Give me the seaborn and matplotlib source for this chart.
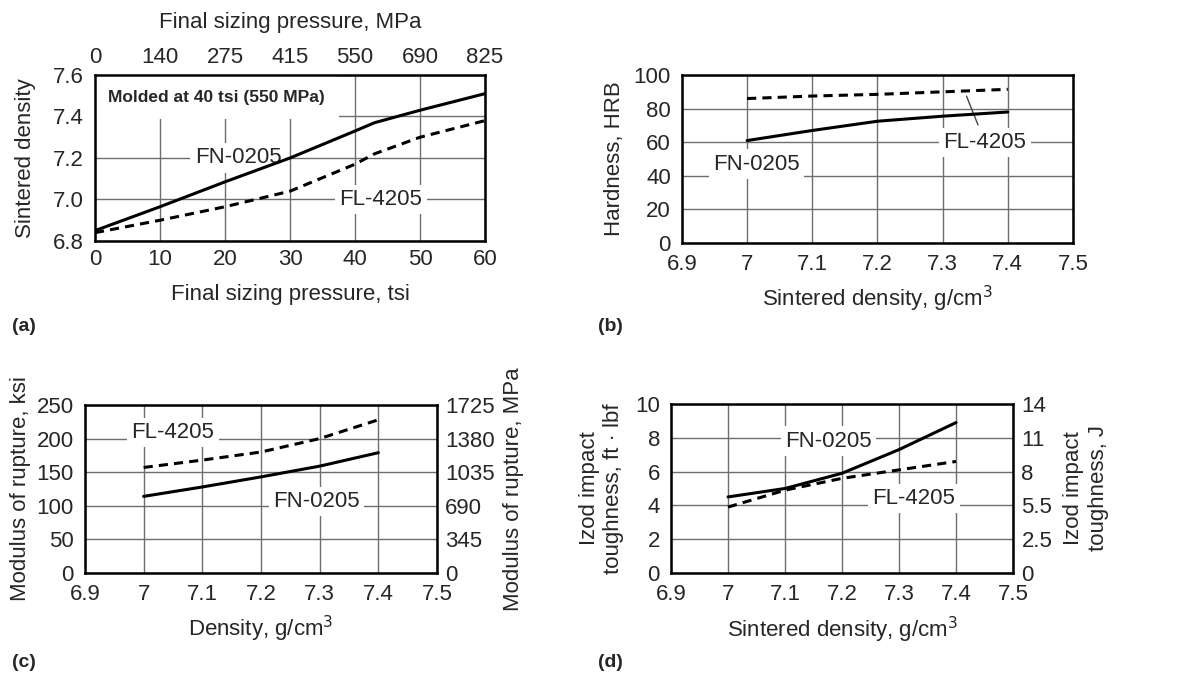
import seaborn as sns
import matplotlib.pyplot as plt
import pandas as pd

# (a) sintered density vs final sizing pressure
tsi = [0, 10, 20, 30, 40, 43, 50, 60]
fn_density = [6.85, 6.965, 7.085, 7.20, 7.33, 7.37, 7.43, 7.51]
fl_density = [6.84, 6.90, 6.965, 7.04, 7.17, 7.22, 7.30, 7.38]
tsi_ticks = [0, 10, 20, 30, 40, 50, 60]
mpa_top_labels = ["0", "140", "275", "415", "550", "690", "825"]

# (b), (c), (d) share the density axis
density = [7.0, 7.1, 7.2, 7.3, 7.4]
fn_hrb = [61, 67, 72.5, 75.5, 78]
fl_hrb = [86, 87.5, 88.5, 90, 91.5]

fn_mor = [114, 128, 143, 159, 179]
fl_mor = [157, 168, 180, 200, 228]
ksi_ticks = [0, 50, 100, 150, 200, 250]
mpa_right_labels = ["0", "345", "690", "1035", "1380", "1725"]

fn_izod = [4.5, 5.0, 5.9, 7.3, 8.9]
fl_izod = [3.9, 4.9, 5.6, 6.1, 6.6]
ftlbf_ticks = [0, 2, 4, 6, 8, 10]
joule_labels = ["0", "2.5", "5.5", "8", "11", "14"]

density_ticks = [6.9, 7.0, 7.1, 7.2, 7.3, 7.4, 7.5]
density_labels = ["6.9", "7", "7.1", "7.2", "7.3", "7.4", "7.5"]

sns.set_style("white")
plt.rcParams['font.family'] = ['Liberation Sans', 'DejaVu Sans']

FS = 16
label_box = dict(facecolor='white', edgecolor='none', pad=3)


def style_axes(ax):
    for s in ax.spines.values():
        s.set_linewidth(1.8)
        s.set_color('black')
    ax.grid(True, color='#6e6e6e', linewidth=1.0)
    ax.set_axisbelow(True)
    ax.tick_params(axis='x', length=0, labelsize=FS, pad=8)
    ax.tick_params(axis='y', length=0, labelsize=FS, pad=8)


def draw_pair(ax, x, fn, fl):
    sns.lineplot(x=x, y=fn, ax=ax, color='black', linewidth=2.2, zorder=3)
    sns.lineplot(x=x, y=fl, ax=ax, color='black', linewidth=2.2,
                 linestyle=(0, (3, 2)), zorder=3)


def curve_label(ax, x, y, s):
    ax.text(x, y, s, fontsize=FS, ha='center', va='center', bbox=label_box, zorder=1)


fig = plt.figure(figsize=(11.77, 6.76), dpi=100)

# ---- (a)
ax_a = fig.add_axes([0.0807, 0.6435, 0.3314, 0.2456])
draw_pair(ax_a, tsi, fn_density, fl_density)
ax_a.set_xlim(0, 60)
ax_a.set_ylim(6.8, 7.6)
ax_a.set_xticks(tsi_ticks)
ax_a.set_yticks([6.8, 7.0, 7.2, 7.4, 7.6])
ax_a.set_yticklabels(["6.8", "7.0", "7.2", "7.4", "7.6"])
style_axes(ax_a)
ax_a.tick_params(axis='x', pad=6)
ax_a.set_xlabel("Final sizing pressure, tsi", fontsize=FS, labelpad=10)
ax_a.set_ylabel("Sintered density", fontsize=FS, labelpad=12)
top = ax_a.twiny()
top.set_xlim(0, 60)
top.set_xticks(tsi_ticks)
top.set_xticklabels(mpa_top_labels)
top.tick_params(length=0, labelsize=FS, pad=5)
top.set_xlabel("Final sizing pressure, MPa", fontsize=FS, labelpad=14)
for s in top.spines.values():
    s.set_visible(False)
ax_a.text(2, 7.49, "Molded at 40 tsi (550 MPa)", fontsize=12.5, fontweight='bold',
          va='center', ha='left', zorder=1,
          bbox=dict(facecolor='white', edgecolor='none', pad=10))
curve_label(ax_a, 22, 7.2, "FN-0205")
curve_label(ax_a, 44, 7.0, "FL-4205")

# ---- (b)
ax_b = fig.add_axes([0.5794, 0.6405, 0.3322, 0.2485])
draw_pair(ax_b, density, fn_hrb, fl_hrb)
ax_b.set_xlim(6.9, 7.5)
ax_b.set_ylim(0, 100)
ax_b.set_xticks(density_ticks)
ax_b.set_xticklabels(density_labels)
ax_b.set_yticks([0, 20, 40, 60, 80, 100])
style_axes(ax_b)
ax_b.set_xlabel("Sintered density, g/cm$^3$", fontsize=FS, labelpad=6)
ax_b.set_ylabel("Hardness, HRB", fontsize=FS, labelpad=6)
curve_label(ax_b, 7.015, 47, "FN-0205")
ax_b.annotate("FL-4205", xy=(7.335, 89), xytext=(7.365, 60), fontsize=FS,
              ha='center', va='center', bbox=label_box, zorder=1,
              arrowprops=dict(arrowstyle='-', color='#444', lw=1.0))

# ---- (c)
ax_c = fig.add_axes([0.0722, 0.1524, 0.2991, 0.2485])
draw_pair(ax_c, density, fn_mor, fl_mor)
ax_c.set_xlim(6.9, 7.5)
ax_c.set_ylim(0, 250)
ax_c.set_xticks(density_ticks)
ax_c.set_xticklabels(density_labels)
ax_c.set_yticks(ksi_ticks)
style_axes(ax_c)
ax_c.set_xlabel("Density, g/cm$^3$", fontsize=FS, labelpad=6)
ax_c.set_ylabel("Modulus of rupture, ksi", fontsize=FS, labelpad=4)
right_c = ax_c.twinx()
right_c.set_ylim(0, 250)
right_c.set_yticks(ksi_ticks)
right_c.set_yticklabels(mpa_right_labels)
right_c.tick_params(length=0, labelsize=FS, pad=6)
right_c.set_ylabel("Modulus of rupture, MPa", fontsize=FS, labelpad=6)
for s in right_c.spines.values():
    s.set_visible(False)
curve_label(ax_c, 7.05, 209, "FL-4205")
curve_label(ax_c, 7.295, 106, "FN-0205")

# ---- (d)
ax_d = fig.add_axes([0.5701, 0.1524, 0.2906, 0.25])
draw_pair(ax_d, density, fn_izod, fl_izod)
ax_d.set_xlim(6.9, 7.5)
ax_d.set_ylim(0, 10)
ax_d.set_xticks(density_ticks)
ax_d.set_xticklabels(density_labels)
ax_d.set_yticks(ftlbf_ticks)
style_axes(ax_d)
ax_d.set_xlabel("Sintered density, g/cm$^3$", fontsize=FS, labelpad=7)
ax_d.set_ylabel("Izod impact\ntoughness, ft · lbf", fontsize=FS, labelpad=8)
right_d = ax_d.twinx()
right_d.set_ylim(0, 10)
right_d.set_yticks(ftlbf_ticks)
right_d.set_yticklabels(joule_labels)
right_d.tick_params(length=0, labelsize=FS, pad=6)
right_d.set_ylabel("Izod impact\ntoughness, J", fontsize=FS, labelpad=8)
for s in right_d.spines.values():
    s.set_visible(False)
curve_label(ax_d, 7.177, 7.8, "FN-0205")
curve_label(ax_d, 7.326, 4.4, "FL-4205")

# panel letters
for letter, (px, py) in zip(["(a)", "(b)", "(c)", "(d)"],
                            [(0.010, 0.505), (0.508, 0.505), (0.010, 0.008), (0.508, 0.008)]):
    fig.text(px, py, letter, fontsize=14, fontweight='bold', ha='left', va='bottom')

fig.savefig("out.png", dpi=100)
